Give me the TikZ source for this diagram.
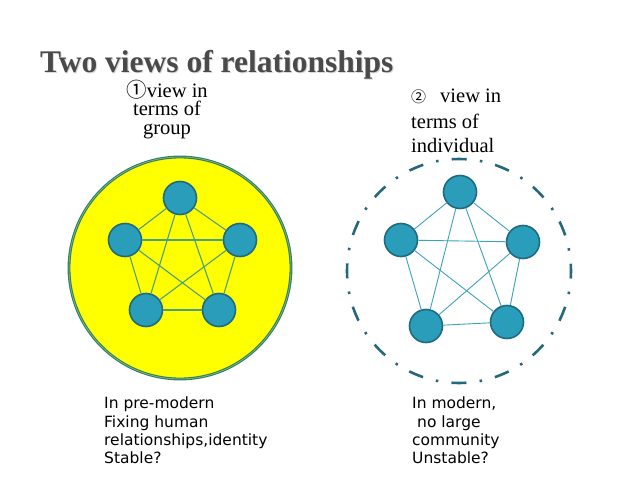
\documentclass[tikz,border=0pt]{standalone}
\usepackage{fontspec}
\setmainfont{Liberation Serif}
\newfontfamily\bodysans{DejaVu Sans}
\newfontfamily\cjkfont{Noto Sans CJK JP}
\definecolor{titlegray}{HTML}{4A4A4A}
\definecolor{nodefill}{HTML}{2A9DBB}
\definecolor{nodeedge}{HTML}{1F6A80}
\definecolor{ringteal}{HTML}{2B7C7C}
\definecolor{dashteal}{HTML}{24687E}
\definecolor{edgeL}{HTML}{4E9E86}
\definecolor{edgeR}{HTML}{3DA2BC}
\definecolor{sunyellow}{HTML}{FFFF00}
\tikzset{
  person/.style={circle, fill=nodefill, draw=nodeedge, line width=1.6pt, minimum size=33pt, inner sep=0pt},
  linkL/.style={draw=edgeL, line width=1.1pt},
  linkR/.style={draw=edgeR, line width=0.9pt},
  headtext/.style={anchor=base, inner sep=0pt, font=\fontsize{20.5}{24}\selectfont},
  headtextw/.style={anchor=base west, inner sep=0pt, font=\fontsize{20.5}{24}\selectfont},
  bodytext/.style={anchor=base west, inner sep=0pt, font=\bodysans\fontsize{15.5}{18}\selectfont}
}
\begin{document}
\begin{tikzpicture}[x=1pt,y=-1pt]
\useasboundingbox (0,0) rectangle (638,479);
\fill[white] (0,0) rectangle (638,479);

% title
\node[anchor=base west, inner sep=0pt, text=gray!30, font=\bfseries\fontsize{31.5}{36}\selectfont] (titleshadow) at (41,73) {Two views of relationships};
\node[anchor=base west, inner sep=0pt, text=titlegray, font=\bfseries\fontsize{31.5}{36}\selectfont] (title) at (40,72) {Two views of relationships};

% left header
\node[headtext] (lh1) at (167,97) {{\cjkfont ①}view in};
\node[headtext] (lh2) at (167,115.5) {terms of};
\node[headtext] (lh3) at (167,134) {group};

% right header
\node[headtextw] (rh1) at (411,102) {{\cjkfont\fontsize{15}{18}\selectfont ②}\hspace{14pt}view in};
\node[headtextw] (rh2) at (411,128) {terms of};
\node[headtextw] (rh3) at (411,152) {individual};

% left big circle
\coordinate (cL) at (180,268);
\fill[sunyellow] (cL) circle (111);
\draw[ringteal, line width=2.8pt] (cL) circle (111);
\draw[sunyellow!60!ringteal, line width=0.5pt] (cL) circle (111);

% right dashed circle
\coordinate (cR) at (459,271);
\draw[dashteal, line width=2.6pt,
      dash pattern=on 15pt off 13.25pt on 2.5pt off 13.25pt, dash phase=7.5pt] (cR) circle (112);

% left network
\node[person] (a1) at (180,198) {};
\node[person] (b1) at (125,240) {};
\node[person] (c1) at (240,240) {};
\node[person] (d1) at (146,310) {};
\node[person] (e1) at (219,310) {};
\foreach \u/\v in {a1/b1,a1/c1,a1/d1,a1/e1,b1/c1,b1/d1,b1/e1,c1/d1,c1/e1,d1/e1}
  \draw[linkL] (\u) -- (\v);

% right network
\node[person] (a2) at (460,192) {};
\node[person] (b2) at (401,240) {};
\node[person] (c2) at (523,242) {};
\node[person] (d2) at (426,326) {};
\node[person] (e2) at (507,322) {};
\foreach \u/\v in {a2/b2,a2/c2,a2/d2,a2/e2,b2/c2,b2/d2,b2/e2,c2/d2,c2/e2,d2/e2}
  \draw[linkR] (\u) -- (\v);

% bottom texts
\node[bodytext] (lb1) at (104,408) {In pre-modern};
\node[bodytext] (lb2) at (104,427) {Fixing human};
\node[bodytext] (lb3) at (104,445) {relationships,identity};
\node[bodytext] (lb4) at (104,463) {Stable?};

\node[bodytext] (rb1) at (412,408) {In modern,};
\node[bodytext] (rb2) at (412,427) {\hspace{5pt}no large};
\node[bodytext] (rb3) at (412,445) {community};
\node[bodytext] (rb4) at (412,463) {Unstable?};
\end{tikzpicture}
\end{document}
